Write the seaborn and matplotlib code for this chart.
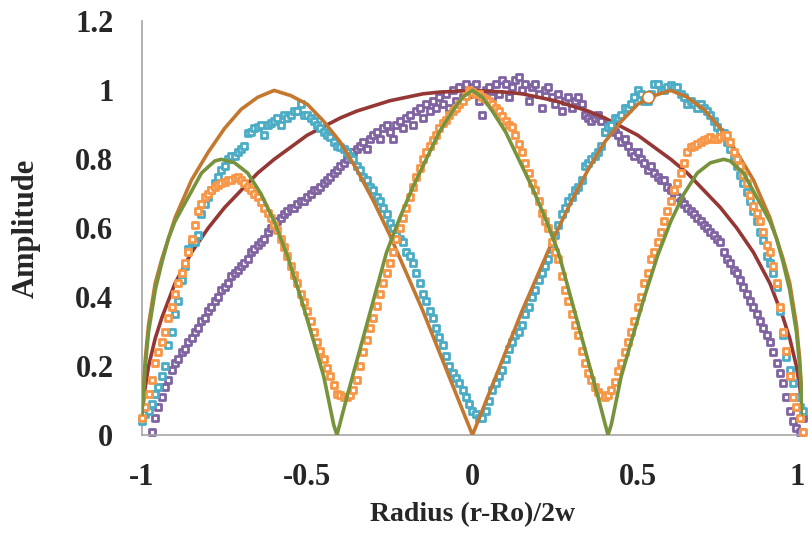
import numpy as np
import matplotlib
matplotlib.use("Agg")
import matplotlib.pyplot as plt
from matplotlib.transforms import ScaledTranslation
import seaborn as sns

# ── Data ────────────────────────────────────────────────────────────────────
R_GRID = np.round(np.linspace(-1.0, 1.0, 201), 2)  # measured points, step 0.01

PURPLE_Y = [
    np.nan, np.nan, np.nan, 0.01, 0.05, 0.08, 0.11, 0.14, 0.16, 0.19,
    0.21, 0.22, 0.24, 0.25, 0.27, 0.28, 0.30, 0.31, 0.33, 0.34,
    0.36, 0.37, 0.39, 0.40, 0.42, 0.43, 0.44, 0.46, 0.47, 0.48,
    0.49, 0.50, 0.51, 0.53, 0.54, 0.55, 0.56, 0.57, 0.59, 0.60,
    0.61, 0.62, 0.63, 0.64, 0.65, 0.66, 0.66, 0.67, 0.68, 0.68,
    0.69, 0.70, 0.71, 0.71, 0.72, 0.73, 0.74, 0.75, 0.76, 0.77,
    0.78, 0.79, 0.80, 0.81, 0.82, 0.83, 0.84, 0.85, 0.83, 0.86,
    0.87, 0.88, 0.86, 0.89, 0.90, 0.88, 0.86, 0.90, 0.91, 0.89,
    0.92, 0.93, 0.90, 0.94, 0.95, 0.92, 0.96, 0.94, 0.97, 0.95,
    0.98, 0.96, 0.99, 0.95, 1.00, 0.97, 1.01, 0.98, 1.02, 0.99,
    1.01, 1.02, 0.97, 0.93, 1.00, 1.01, 0.98, 1.02, 0.99, 1.03,
    1.02, 0.98, 1.01, 1.03, 1.04, 1.00, 1.02, 0.97, 1.01, 1.02,
    0.99, 0.95, 1.00, 1.01, 0.98, 0.96, 0.99, 0.94, 0.97, 0.98,
    0.95, 0.97, 0.98, 0.96, 0.93, 0.92, 0.91, 0.92, 0.93, 0.91,
    0.88, 0.90, 0.89, 0.88, 0.87, 0.85, 0.86, 0.84, 0.82, 0.81,
    0.82, 0.80, 0.79, 0.77, 0.78, 0.76, 0.75, 0.74, 0.74, 0.72,
    0.71, 0.70, 0.69, 0.68, 0.67, 0.66, 0.65, 0.64, 0.63, 0.62,
    0.61, 0.60, 0.59, 0.58, 0.57, 0.56, 0.53, 0.51, 0.50, 0.48,
    0.47, 0.45, 0.43, 0.41, 0.39, 0.37, 0.35, 0.33, 0.31, 0.29,
    0.27, 0.24, 0.21, 0.18, 0.15, 0.11, 0.07, 0.04, 0.02, 0.01,
    0.05,
]

CYAN_Y = [
    0.04, 0.06, 0.07, 0.09, 0.12, 0.14, 0.17, 0.20, 0.26, 0.30,
    0.35, 0.39, 0.45, 0.49, 0.54, 0.56, 0.56, 0.58, 0.64, 0.67,
    0.69, 0.71, 0.73, 0.75, 0.77, 0.78, 0.80, 0.81, 0.81, 0.82,
    0.83, 0.84, 0.875, 0.88, 0.89, 0.895, 0.90, 0.87, 0.90, 0.905,
    0.91, 0.92, 0.90, 0.93, 0.92, 0.93, 0.94, 0.94, 0.96, 0.93,
    0.93, 0.92, 0.91, 0.90, 0.89, 0.88, 0.87, 0.865, 0.85, 0.84,
    0.835, 0.83, 0.82, 0.81, 0.80, 0.78, 0.77, 0.75, 0.74, 0.72,
    0.71, 0.69, 0.68, 0.66, 0.64, 0.615, 0.60, 0.58, 0.57, 0.56,
    0.53, 0.52, 0.50, 0.47, 0.44, 0.41, 0.39, 0.36, 0.34, 0.31,
    0.285, 0.26, 0.23, 0.20, 0.18, 0.165, 0.15, 0.13, 0.11, 0.09,
    0.07, 0.06, 0.05, 0.05, 0.07, 0.10, 0.13, 0.15, 0.17, 0.19,
    0.22, 0.25, 0.27, 0.29, 0.30, 0.32, 0.35, 0.37, 0.40, 0.42,
    0.45, 0.47, 0.49, 0.51, 0.54, 0.58, 0.61, 0.64, 0.66, 0.68,
    0.69, 0.71, 0.72, 0.74, 0.78, 0.79, 0.80, 0.81, 0.82, 0.84,
    0.88, 0.895, 0.90, 0.92, 0.92, 0.93, 0.95, 0.95, 0.96, 0.98,
    1.00, 0.99, 0.97, 0.97, 0.99, 1.02, 1.02, 1.00, 1.00, 1.01,
    1.015, 1.01, 1.01, 0.99, 0.98, 0.96, 0.97, 0.96, 0.95, 0.96,
    0.95, 0.94, 0.93, 0.91, 0.895, 0.88, 0.875, 0.85, 0.83, 0.81,
    0.78, 0.755, 0.73, 0.705, 0.68, 0.65, 0.62, 0.59, 0.565, 0.52,
    0.50, 0.47, 0.43, 0.36, 0.29, 0.225, 0.19, 0.15, 0.11, 0.08,
    0.07,
]

ORANGE_Y = [
    0.05, 0.08, 0.12, 0.16, 0.21, 0.24, 0.27, 0.30, 0.34, 0.37,
    0.41, 0.44, 0.47, 0.50, 0.53, 0.57, 0.61, 0.65, 0.67, 0.69,
    0.70, 0.71, 0.72, 0.725, 0.73, 0.735, 0.74, 0.74, 0.745, 0.75,
    0.74, 0.73, 0.72, 0.71, 0.70, 0.69, 0.675, 0.66, 0.645, 0.63,
    0.61, 0.595, 0.57, 0.545, 0.52, 0.49, 0.465, 0.44, 0.41, 0.385,
    0.36, 0.33, 0.30, 0.27, 0.245, 0.22, 0.195, 0.17, 0.145, 0.12,
    0.115, 0.11, 0.11, 0.115, 0.13, 0.16, 0.20, 0.24, 0.275, 0.31,
    0.34, 0.375, 0.41, 0.44, 0.47, 0.50, 0.53, 0.57, 0.60, 0.63,
    0.66, 0.69, 0.72, 0.75, 0.775, 0.80, 0.82, 0.84, 0.855, 0.87,
    0.89, 0.905, 0.915, 0.93, 0.94, 0.95, 0.96, 0.97, 0.985, 1.00,
    0.995, 0.99, 0.99, 0.98, 0.975, 0.97, 0.96, 0.95, 0.94, 0.925,
    0.91, 0.90, 0.895, 0.87, 0.845, 0.82, 0.79, 0.76, 0.73, 0.71,
    0.68, 0.645, 0.62, 0.60, 0.56, 0.53, 0.51, 0.46, 0.42, 0.39,
    0.35, 0.32, 0.29, 0.245, 0.21, 0.18, 0.16, 0.14, 0.125, 0.115,
    0.11, 0.115, 0.13, 0.155, 0.185, 0.21, 0.24, 0.27, 0.30, 0.33,
    0.37, 0.40, 0.44, 0.47, 0.51, 0.53, 0.56, 0.59, 0.62, 0.65,
    0.68, 0.71, 0.73, 0.76, 0.79, 0.82, 0.835, 0.84, 0.845, 0.85,
    0.855, 0.86, 0.865, 0.86, 0.86, 0.865, 0.87, 0.87, 0.85, 0.82,
    0.80, 0.78, 0.755, 0.73, 0.695, 0.665, 0.645, 0.62, 0.59, 0.55,
    0.53, 0.49, 0.44, 0.37, 0.30, 0.245, 0.17, 0.11, 0.08, 0.05,
    0.01,
]

# smooth model curves
RED_X = [-1.0, -0.99, -0.98, -0.96, -0.94, -0.92, -0.9, -0.85, -0.8, -0.75, -0.7,
         -0.65, -0.6, -0.55, -0.5, -0.45, -0.4, -0.35, -0.3, -0.25, -0.2, -0.15,
         -0.1, 0.0, 0.1, 0.15, 0.2, 0.25, 0.3, 0.35, 0.4, 0.45, 0.5, 0.55, 0.6,
         0.65, 0.7, 0.75, 0.8, 0.85, 0.9, 0.92, 0.94, 0.96, 0.98, 0.99, 1.0]
RED_Y = [0.06, 0.14, 0.20, 0.28, 0.34, 0.39, 0.44, 0.53, 0.60, 0.66, 0.71,
         0.76, 0.80, 0.835, 0.87, 0.895, 0.92, 0.94, 0.955, 0.97, 0.98, 0.99,
         0.995, 1.0, 0.995, 0.99, 0.98, 0.97, 0.955, 0.94, 0.92, 0.895, 0.87, 0.835, 0.80,
         0.76, 0.71, 0.66, 0.60, 0.53, 0.44, 0.39, 0.34, 0.28, 0.20, 0.14, 0.06]

BROWN_X = [-1.0, -0.99, -0.98, -0.96, -0.94, -0.92, -0.9, -0.85, -0.8, -0.75, -0.7,
           -0.65, -0.6, -0.55, -0.5, -0.45, -0.4, -0.35, -0.3, -0.25, -0.2, -0.15,
           -0.1, -0.05, 0.0, 0.05, 0.1, 0.15, 0.2, 0.25, 0.3, 0.35, 0.4, 0.45, 0.5,
           0.55, 0.6, 0.65, 0.7, 0.75, 0.8, 0.85, 0.9, 0.92, 0.94, 0.96, 0.98, 0.99, 1.0]
BROWN_Y = [0.05, 0.22, 0.32, 0.44, 0.51, 0.57, 0.63, 0.74, 0.82, 0.89, 0.945,
           0.98, 1.0, 0.985, 0.96, 0.91, 0.85, 0.77, 0.68, 0.58, 0.47, 0.36,
           0.24, 0.12, 0.0, 0.12, 0.24, 0.36, 0.47, 0.58, 0.68, 0.77, 0.85, 0.91, 0.96,
           0.985, 1.0, 0.98, 0.945, 0.89, 0.82, 0.74, 0.63, 0.57, 0.51, 0.44, 0.32, 0.22, 0.05]

GREEN_X = [-1.0, -0.99, -0.98, -0.96, -0.94, -0.92, -0.9, -0.86, -0.82, -0.78, -0.76,
           -0.72, -0.68, -0.64, -0.6, -0.56, -0.52, -0.48, -0.45, -0.42, -0.41,
           -0.38, -0.34, -0.3, -0.26, -0.22, -0.18, -0.14, -0.1, -0.06, -0.03, 0.0,
           0.03, 0.06, 0.1, 0.14, 0.18, 0.22, 0.26, 0.3, 0.34, 0.38, 0.41, 0.42,
           0.45, 0.48, 0.52, 0.56, 0.6, 0.64, 0.68, 0.72, 0.76, 0.78, 0.82, 0.86,
           0.9, 0.92, 0.94, 0.96, 0.98, 0.99, 1.0]
GREEN_Y = [0.06, 0.20, 0.30, 0.42, 0.50, 0.57, 0.62, 0.69, 0.76, 0.795, 0.80,
           0.79, 0.76, 0.70, 0.62, 0.52, 0.40, 0.27, 0.17, 0.03, 0.0,
           0.11, 0.25, 0.39, 0.53, 0.63, 0.72, 0.80, 0.88, 0.94, 0.98, 1.0,
           0.98, 0.94, 0.88, 0.80, 0.72, 0.63, 0.53, 0.39, 0.25, 0.11, 0.0, 0.03,
           0.17, 0.27, 0.40, 0.52, 0.62, 0.70, 0.76, 0.79, 0.80, 0.795, 0.76, 0.69,
           0.62, 0.57, 0.50, 0.42, 0.30, 0.20, 0.06]

HIGHLIGHT_X = [0.53]
HIGHLIGHT_Y = [0.98]

X_TICKS = [-1, -0.5, 0, 0.5, 1]
X_TICK_LABELS = ["-1", "-0.5", "0", "0.5", "1"]
Y_TICKS = [0, 0.2, 0.4, 0.6, 0.8, 1.0, 1.2]
Y_TICK_LABELS = ["0", "0.2", "0.4", "0.6", "0.8", "1", "1.2"]

COLORS = {
    "purple": "#8064A2",
    "cyan": "#4BACC6",
    "orange": "#F79646",
    "red": "#953735",
    "green": "#77933C",
    "brown": "#C4782F",
}
AXIS_GRAY = "#A6A6A6"

sns.set_style("white")
plt.rcParams["font.family"] = ["Liberation Serif", "DejaVu Serif"]
plt.rcParams["font.weight"] = "bold"

fig, ax = plt.subplots(figsize=(8.08, 5.33), dpi=100)
fig.subplots_adjust(left=0.1757, right=0.9938, bottom=0.1839, top=0.9597)

mk = dict(marker="s", s=22, color="white", linewidth=2.0, ax=ax, clip_on=False, legend=False)
ln = dict(lw=2.6, ax=ax, estimator=None, sort=False, legend=False)

sns.scatterplot(x=R_GRID, y=PURPLE_Y, edgecolor=COLORS["purple"], zorder=2, **mk)
sns.lineplot(x=RED_X, y=RED_Y, color=COLORS["red"], zorder=3, **ln)
sns.scatterplot(x=R_GRID, y=CYAN_Y, edgecolor=COLORS["cyan"], zorder=4, **mk)
sns.lineplot(x=BROWN_X, y=BROWN_Y, color=COLORS["brown"], zorder=5, **ln)
sns.scatterplot(x=R_GRID, y=ORANGE_Y, edgecolor=COLORS["orange"], zorder=6, **mk)
sns.lineplot(x=GREEN_X, y=GREEN_Y, color=COLORS["green"], zorder=7, **ln)
ax.scatter(HIGHLIGHT_X, HIGHLIGHT_Y, s=70, facecolor="white",
           edgecolor=COLORS["brown"], linewidth=1.2, zorder=8)

ax.set_xlim(-1, 1)
ax.set_ylim(0, 1.2)
ax.set_xticks(X_TICKS, labels=X_TICK_LABELS)
ax.set_yticks(Y_TICKS, labels=Y_TICK_LABELS)
ax.tick_params(axis="both", direction="out", length=6.5, width=1.2, color=AXIS_GRAY,
               pad=14, labelsize=22)
for lab in ax.get_xticklabels() + ax.get_yticklabels():
    lab.set_fontweight("bold")
# keep the last x label inside the canvas
last = ax.get_xticklabels()[-1]
last.set_transform(last.get_transform() + ScaledTranslation(-4 / 72, 0, fig.dpi_scale_trans))

for side in ["top", "right"]:
    ax.spines[side].set_visible(False)
for side in ["left", "bottom"]:
    ax.spines[side].set_color(AXIS_GRAY)
    ax.spines[side].set_linewidth(1.2)

ax.set_xlabel("Radius (r-Ro)/2w", fontsize=20, fontweight="bold")
ax.set_ylabel("Amplitude", fontsize=22, fontweight="bold")
ax.xaxis.set_label_coords(0.5, -0.162)
ax.yaxis.set_label_coords(-0.153, 0.5)

fig.savefig("out.png", dpi=100)
